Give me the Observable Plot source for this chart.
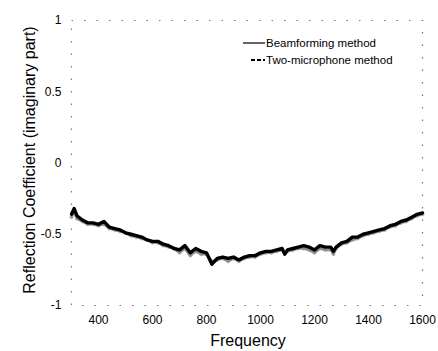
<!DOCTYPE html>
<html><head><meta charset="utf-8">
<script src="https://cdn.jsdelivr.net/npm/d3@7"></script>
<script src="https://cdn.jsdelivr.net/npm/@observablehq/plot@0.6"></script>
<style>
body{margin:0;background:#fff;font-family:"Liberation Sans",Arial,sans-serif;}
#chart{position:relative;width:438px;height:351px;}
</style></head><body><div id="chart"></div>
<script>
const freq = [300,310,320,340,360,380,400,420,440,460,480,500,520,540,560,580,600,620,640,660,680,700,720,740,760,780,800,820,840,860,880,900,920,940,960,980,1000,1020,1040,1060,1080,1090,1100,1120,1140,1160,1180,1200,1220,1240,1260,1270,1280,1300,1320,1340,1360,1380,1400,1420,1440,1460,1480,1500,1520,1540,1560,1580,1600];
const beamforming = [-0.36,-0.32,-0.37,-0.40,-0.42,-0.42,-0.43,-0.41,-0.45,-0.46,-0.47,-0.49,-0.50,-0.51,-0.52,-0.54,-0.55,-0.55,-0.57,-0.58,-0.60,-0.61,-0.58,-0.63,-0.60,-0.62,-0.63,-0.71,-0.67,-0.66,-0.67,-0.66,-0.68,-0.66,-0.65,-0.65,-0.63,-0.62,-0.62,-0.61,-0.60,-0.64,-0.61,-0.60,-0.59,-0.58,-0.59,-0.61,-0.58,-0.59,-0.59,-0.62,-0.59,-0.56,-0.55,-0.52,-0.52,-0.50,-0.49,-0.48,-0.47,-0.46,-0.44,-0.43,-0.41,-0.40,-0.38,-0.36,-0.35];
const twoMic = [-0.38,-0.34,-0.39,-0.41,-0.43,-0.43,-0.44,-0.43,-0.46,-0.47,-0.48,-0.49,-0.51,-0.52,-0.53,-0.54,-0.56,-0.56,-0.58,-0.59,-0.60,-0.63,-0.60,-0.65,-0.62,-0.64,-0.64,-0.69,-0.68,-0.67,-0.69,-0.67,-0.69,-0.67,-0.66,-0.66,-0.64,-0.63,-0.63,-0.62,-0.61,-0.63,-0.62,-0.61,-0.60,-0.60,-0.61,-0.63,-0.60,-0.61,-0.61,-0.64,-0.60,-0.57,-0.56,-0.54,-0.53,-0.51,-0.50,-0.49,-0.48,-0.47,-0.45,-0.44,-0.42,-0.41,-0.39,-0.37,-0.36];
const xTicks = [400,600,800,1000,1200,1400,1600];
const yTicks = [-1,-0.5,0,0.5,1];
const seriesNames = ["Beamforming method","Two-microphone method"];

const data = [];
freq.forEach((f,i)=>{
  data.push({f, v: beamforming[i], s: seriesNames[0]});
  data.push({f, v: twoMic[i], s: seriesNames[1]});
});
const bf = data.filter(d=>d.s===seriesNames[0]);
const tm = data.filter(d=>d.s===seriesNames[1]);

const chart = Plot.plot({
  width: 438, height: 351,
  marginLeft: 71, marginRight: 16, marginTop: 20, marginBottom: 46,
  style: {fontFamily: '"Liberation Sans",Arial,sans-serif', fontSize: "12px", background: "#fff", color: "#000"},
  x: {domain: [300,1600], ticks: xTicks, tickSize: 0, tickPadding: 10, label: null, tickFormat: d=>String(d)},
  y: {domain: [-1,1], ticks: yTicks, tickSize: 0, tickPadding: 10, label: null, tickFormat: d=>String(d)},
  marks: [
    Plot.frame({stroke: "#777", strokeDasharray: "1.5,11", strokeWidth: 1.2}),
    Plot.line(tm, {x: "f", y: "v", stroke: "#888", strokeWidth: 2.5}),
    Plot.dot(tm, {x: "f", y: "v", stroke: "#999", r: 1.5, strokeWidth: 0.8}),
    Plot.line(bf, {x: "f", y: "v", stroke: "#000", strokeWidth: 3.4})
  ]
});
document.getElementById("chart").appendChild(chart);
const svg = d3.select(chart);
const ff = '"Liberation Sans",Arial,sans-serif';
svg.append("text").attr("x", 248).attr("y", 346).attr("text-anchor","middle")
  .attr("font-size",16).attr("font-family",ff).text("Frequency");
svg.append("text").attr("transform","translate(35,160) rotate(-90)").attr("text-anchor","middle")
  .attr("font-size",16).attr("font-family",ff).text("Reflection Coefficient (imaginary part)");
// legend
const lg = svg.append("g").attr("font-size", 11.5).attr("font-family", ff).attr("text-anchor","start");
lg.append("line").attr("x1",243).attr("x2",265).attr("y1",43).attr("y2",43).attr("stroke","#333").attr("stroke-width",1.5);
lg.append("line").attr("x1",251).attr("x2",265).attr("y1",60).attr("y2",60).attr("stroke","#000").attr("stroke-width",2).attr("stroke-dasharray","4,2");
lg.append("text").attr("x",266).attr("y",47).text(seriesNames[0]);
lg.append("text").attr("x",266).attr("y",64).text(seriesNames[1]);
</script></body></html>
